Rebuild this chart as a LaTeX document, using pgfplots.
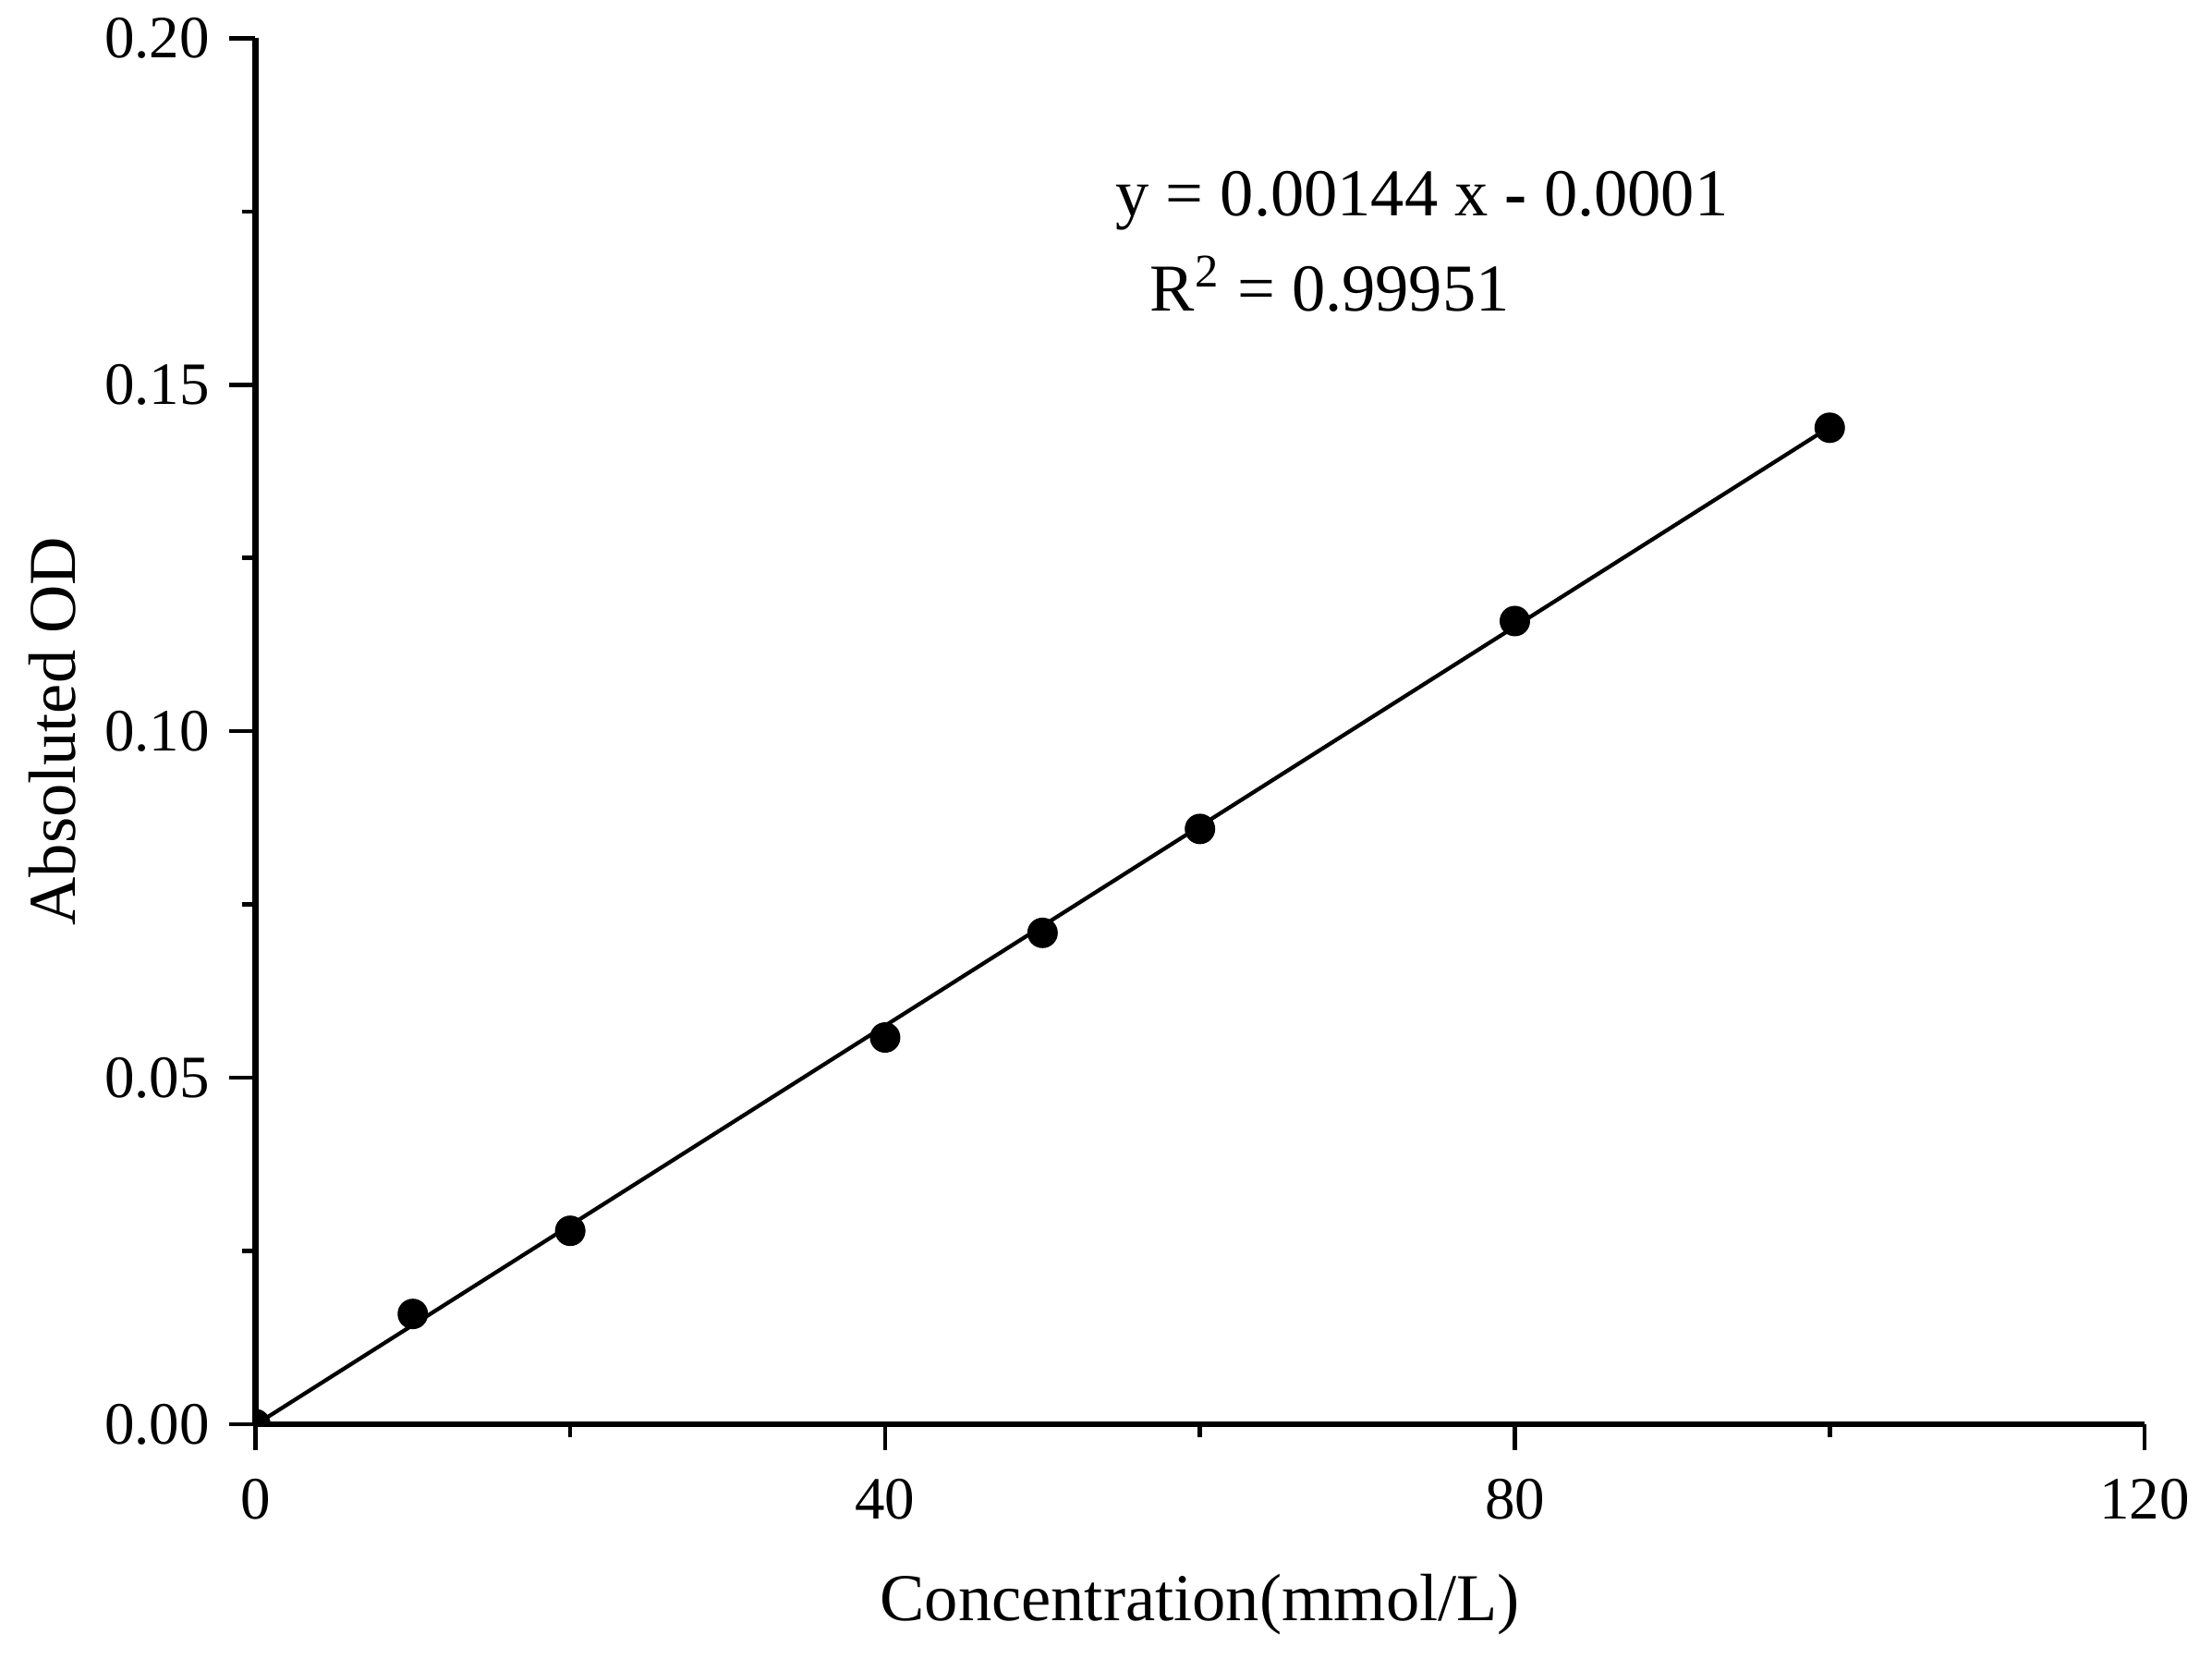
\documentclass[border=0pt]{standalone}
\usepackage{fontspec}
\setmainfont{Liberation Serif}
\usepackage{pgfplots}
\pgfplotsset{compat=1.18}
\begin{document}
\begin{tikzpicture}
\begin{axis}[
  name=ax, at={(0,0)}, anchor=south west,
  scale only axis, width=409.1pt, height=300pt,
  xmin=0, xmax=120, ymin=0, ymax=0.20,
  axis x line*=bottom, axis y line*=left,
  axis line style={line width=1.3pt, -},
  tick align=outside,
  major tick length=5.6pt, minor tick length=2.8pt,
  every tick/.style={line width=0.9pt, black},
  xtick={0,40,80,120}, minor xtick={20,60,100},
  ytick={0,0.05,0.10,0.15,0.20}, minor ytick={0.025,0.075,0.125,0.175},
  /pgf/number format/assume math mode=true,
  yticklabel style={/pgf/number format/fixed, /pgf/number format/fixed zerofill, /pgf/number format/precision=2, xshift=-0.8pt},
  ticklabel style={font=\fontsize{13}{15}\selectfont},
  xticklabel style={yshift=-2.8pt},
  xlabel={Concentration(mmol/L)},
  ylabel={Absoluted OD},
  label style={font=\fontsize{14.5}{17}\selectfont},
  xlabel style={at={([yshift=-39pt]axis description cs:0.5,0)}, anchor=center},
  ylabel style={at={([xshift=-44pt]axis description cs:0,0.5)}, anchor=center},
  clip marker paths=true,
]
\addplot[black, line width=0.85pt] coordinates {(0,-0.0001) (100,0.1439)};
\addplot[only marks, mark=*, mark size=3.1pt, black] coordinates {
 (0,0) (10,0.0159) (20,0.0279) (40,0.0558) (50,0.0709) (60,0.0859) (80,0.1159) (100,0.1438)};
\node[font=\fontsize{14.5}{17}\selectfont, anchor=center] at (axis cs:74.1,0.1765) {y = 0.00144 x \textbf{-} 0.0001};
\node[font=\fontsize{14.5}{17}\selectfont, anchor=west] at (axis cs:55.8,0.1645) {R\textsuperscript{2} = 0.99951};
\end{axis}
\pgfresetboundingbox
\path[use as bounding box] (-55.3pt,-50.7pt) rectangle (423.7pt,308.3pt);
\end{tikzpicture}
\end{document}
